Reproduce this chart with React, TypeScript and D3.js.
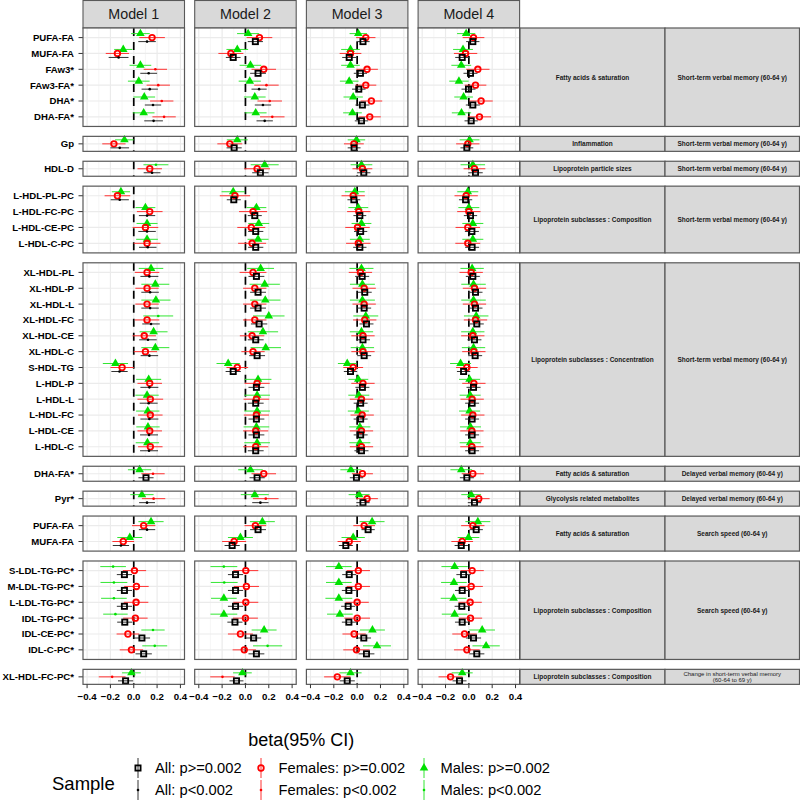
import React from "react";
import * as d3 from "d3";

const models = ["Model 1", "Model 2", "Model 3", "Model 4"];
const rowLabels = [
  "PUFA-FA", "MUFA-FA", "FAw3*", "FAw3-FA*", "DHA*", "DHA-FA*",
  "Gp",
  "HDL-D",
  "L-HDL-PL-PC", "L-HDL-FC-PC", "L-HDL-CE-PC", "L-HDL-C-PC",
  "XL-HDL-PL", "XL-HDL-P", "XL-HDL-L", "XL-HDL-FC", "XL-HDL-CE", "XL-HDL-C",
  "S-HDL-TG", "L-HDL-P", "L-HDL-L", "L-HDL-FC", "L-HDL-CE", "L-HDL-C",
  "DHA-FA*",
  "Pyr*",
  "PUFA-FA", "MUFA-FA",
  "S-LDL-TG-PC*", "M-LDL-TG-PC*", "L-LDL-TG-PC*", "IDL-TG-PC*", "IDL-CE-PC*", "IDL-C-PC*",
  "XL-HDL-FC-PC*",
];
const groupSizes = [6, 1, 1, 4, 12, 1, 1, 2, 6, 1];
const groupClass = [
  "Fatty acids & saturation", "Inflammation", "Lipoprotein particle sizes",
  "Lipoprotein subclasses : Composition", "Lipoprotein subclasses : Concentration",
  "Fatty acids & saturation", "Glycolysis related metabolites", "Fatty acids & saturation",
  "Lipoprotein subclasses : Composition", "Lipoprotein subclasses : Composition",
];
const groupOutcome = [
  ["Short-term verbal memory (60-64 y)"], ["Short-term verbal memory (60-64 y)"],
  ["Short-term verbal memory (60-64 y)"], ["Short-term verbal memory (60-64 y)"],
  ["Short-term verbal memory (60-64 y)"], ["Delayed verbal memory (60-64 y)"],
  ["Delayed verbal memory (60-64 y)"], ["Search speed (60-64 y)"], ["Search speed (60-64 y)"],
  ["Change in short-term verbal memory", "(60-64 to 69 y)"],
];
const xTicks = [-0.4, -0.2, 0, 0.2, 0.4];
const xMinor = [-0.3, -0.1, 0.1, 0.3];

// estimates per model (rows in rowLabels order)
const estAll = [
  [0.114, -0.13, 0.128, 0.137, 0.165, 0.17, -0.12, 0.157, -0.12, 0.114, 0.114, 0.12, 0.134, 0.14, 0.14, 0.148, 0.122, 0.134, -0.122, 0.134, 0.128, 0.134, 0.131, 0.131, 0.105, 0.114, 0.114, -0.11, -0.08, -0.08, -0.08, -0.077, 0.07, 0.085, -0.07],
  [0.085, -0.105, 0.108, 0.117, 0.15, 0.165, -0.097, 0.128, -0.1, 0.08, 0.088, 0.088, 0.094, 0.108, 0.108, 0.117, 0.088, 0.1, -0.105, 0.094, 0.088, 0.094, 0.094, 0.088, 0.1, 0.128, 0.108, -0.114, -0.085, -0.085, -0.085, -0.09, 0.07, 0.094, -0.077],
  [0.05, -0.068, 0.028, 0.014, 0.045, 0.037, -0.026, 0.057, -0.028, 0.023, 0.03, 0.023, 0.043, 0.065, 0.06, 0.08, 0.05, 0.06, -0.057, 0.045, 0.03, 0.03, 0.03, 0.037, -0.006, 0.05, 0.094, -0.097, -0.068, -0.071, -0.077, -0.071, 0.057, 0.08, -0.085],
  [0.034, -0.057, 0.014, -0.003, 0.034, 0.02, -0.017, 0.057, -0.028, 0.014, 0.026, 0.028, 0.034, 0.057, 0.057, 0.068, 0.048, 0.054, -0.045, 0.04, 0.028, 0.028, 0.028, 0.028, -0.017, 0.048, 0.063, -0.065, -0.045, -0.057, -0.06, -0.057, 0.04, 0.068, -0.08],
];
const hwAll = [
  [0.075, 0.085, 0.072, 0.07, 0.07, 0.08, 0.08, 0.072, 0.078, 0.07, 0.075, 0.075, 0.077, 0.075, 0.075, 0.075, 0.075, 0.075, 0.07, 0.077, 0.077, 0.077, 0.077, 0.077, 0.065, 0.068, 0.07, 0.07, 0.065, 0.065, 0.065, 0.065, 0.07, 0.07, 0.065],
  [0.065, 0.063, 0.068, 0.065, 0.07, 0.07, 0.065, 0.07, 0.06, 0.06, 0.065, 0.065, 0.068, 0.068, 0.068, 0.07, 0.068, 0.068, 0.065, 0.068, 0.068, 0.068, 0.068, 0.068, 0.065, 0.07, 0.068, 0.065, 0.065, 0.065, 0.065, 0.065, 0.065, 0.068, 0.06],
  [0.057, 0.06, 0.057, 0.058, 0.06, 0.057, 0.055, 0.057, 0.055, 0.055, 0.057, 0.057, 0.06, 0.06, 0.06, 0.06, 0.06, 0.06, 0.057, 0.06, 0.06, 0.06, 0.06, 0.06, 0.057, 0.057, 0.057, 0.06, 0.06, 0.06, 0.06, 0.06, 0.062, 0.068, 0.065],
  [0.057, 0.06, 0.06, 0.06, 0.06, 0.057, 0.055, 0.062, 0.057, 0.057, 0.06, 0.06, 0.06, 0.06, 0.06, 0.06, 0.06, 0.06, 0.057, 0.06, 0.06, 0.06, 0.06, 0.06, 0.06, 0.057, 0.057, 0.057, 0.062, 0.062, 0.062, 0.062, 0.065, 0.065, 0.06],
];
const estFem = [
  [0.157, -0.14, 0.185, 0.21, 0.24, 0.26, -0.17, 0.137, -0.14, 0.137, 0.1, 0.114, 0.114, 0.114, 0.114, 0.114, 0.09, 0.1, -0.1, 0.137, 0.142, 0.142, 0.137, 0.142, 0.165, 0.17, 0.085, -0.09, 0.006, 0.023, 0.02, 0.014, -0.05, -0.02, -0.185],
  [0.12, -0.125, 0.157, 0.18, 0.208, 0.23, -0.134, 0.1, -0.09, 0.065, 0.05, 0.057, 0.065, 0.08, 0.08, 0.08, 0.057, 0.065, -0.07, 0.1, 0.094, 0.094, 0.088, 0.088, 0.157, 0.174, 0.085, -0.097, 0.003, 0.008, 0.003, 0.0, -0.043, -0.01, -0.197],
  [0.074, -0.057, 0.085, 0.074, 0.122, 0.108, -0.028, 0.045, -0.034, 0.014, 0.003, 0.01, 0.028, 0.06, 0.06, 0.065, 0.05, 0.05, -0.034, 0.05, 0.037, 0.043, 0.037, 0.037, 0.045, 0.085, 0.06, -0.068, 0.01, 0.01, 0.0, 0.0, -0.026, -0.006, -0.17],
  [0.04, -0.028, 0.077, 0.057, 0.105, 0.091, -0.009, 0.048, -0.023, 0.0, -0.009, -0.009, 0.02, 0.048, 0.048, 0.057, 0.034, 0.043, -0.017, 0.043, 0.028, 0.034, 0.026, 0.026, 0.034, 0.085, 0.034, -0.057, 0.028, 0.02, 0.011, 0.014, -0.037, -0.017, -0.157],
];
const hwFem = [
  [0.11, 0.1, 0.1, 0.1, 0.1, 0.1, 0.1, 0.105, 0.11, 0.11, 0.11, 0.115, 0.105, 0.1, 0.1, 0.105, 0.1, 0.1, 0.1, 0.105, 0.11, 0.105, 0.105, 0.105, 0.1, 0.1, 0.1, 0.093, 0.1, 0.105, 0.105, 0.105, 0.097, 0.1, 0.115],
  [0.11, 0.107, 0.105, 0.105, 0.105, 0.105, 0.107, 0.11, 0.13, 0.12, 0.12, 0.12, 0.115, 0.1, 0.1, 0.1, 0.105, 0.1, 0.093, 0.108, 0.11, 0.108, 0.108, 0.108, 0.105, 0.11, 0.093, 0.103, 0.107, 0.108, 0.107, 0.107, 0.107, 0.1, 0.105],
  [0.083, 0.093, 0.093, 0.09, 0.093, 0.095, 0.085, 0.085, 0.1, 0.1, 0.105, 0.105, 0.1, 0.1, 0.1, 0.1, 0.1, 0.1, 0.085, 0.1, 0.1, 0.1, 0.1, 0.1, 0.09, 0.093, 0.093, 0.1, 0.1, 0.1, 0.1, 0.11, 0.1, 0.113, 0.113],
  [0.093, 0.1, 0.1, 0.093, 0.1, 0.1, 0.1, 0.093, 0.1, 0.1, 0.105, 0.107, 0.1, 0.1, 0.1, 0.1, 0.1, 0.1, 0.093, 0.1, 0.1, 0.1, 0.1, 0.1, 0.095, 0.093, 0.1, 0.093, 0.1, 0.1, 0.1, 0.1, 0.105, 0.11, 0.103],
];
const estMale = [
  [0.057, -0.09, 0.057, 0.043, 0.09, 0.085, -0.08, 0.19, -0.11, 0.1, 0.114, 0.114, 0.148, 0.185, 0.19, 0.21, 0.17, 0.185, -0.157, 0.128, 0.114, 0.12, 0.122, 0.117, 0.05, 0.07, 0.148, -0.034, -0.177, -0.17, -0.17, -0.157, 0.165, 0.18, -0.02],
  [0.023, -0.07, 0.043, 0.037, 0.08, 0.088, -0.07, 0.165, -0.105, 0.094, 0.114, 0.108, 0.13, 0.165, 0.17, 0.2, 0.15, 0.174, -0.148, 0.108, 0.1, 0.1, 0.094, 0.1, 0.043, 0.08, 0.145, -0.043, -0.185, -0.182, -0.185, -0.185, 0.16, 0.19, -0.026],
  [0.01, -0.057, -0.057, -0.068, -0.034, -0.04, -0.006, 0.037, -0.02, 0.01, 0.037, 0.023, 0.037, 0.045, 0.045, 0.074, 0.037, 0.045, -0.085, 0.01, 0.014, 0.01, 0.023, 0.023, -0.054, 0.017, 0.128, -0.034, -0.157, -0.157, -0.157, -0.148, 0.131, 0.17, -0.057],
  [-0.023, -0.05, -0.065, -0.085, -0.045, -0.063, 0.006, 0.034, -0.009, 0.0, 0.034, 0.034, 0.028, 0.04, 0.04, 0.063, 0.034, 0.04, -0.071, 0.006, 0.011, 0.006, 0.014, 0.011, -0.065, 0.02, 0.077, -0.003, -0.122, -0.128, -0.131, -0.122, 0.114, 0.148, -0.057],
];
const hwMale = [
  [0.08, 0.078, 0.093, 0.093, 0.093, 0.093, 0.08, 0.107, 0.078, 0.085, 0.09, 0.093, 0.105, 0.12, 0.125, 0.128, 0.12, 0.12, 0.108, 0.107, 0.1, 0.1, 0.1, 0.1, 0.1, 0.1, 0.108, 0.107, 0.11, 0.115, 0.11, 0.105, 0.1, 0.107, 0.08],
  [0.095, 0.093, 0.093, 0.095, 0.093, 0.093, 0.09, 0.12, 0.1, 0.085, 0.09, 0.09, 0.115, 0.13, 0.13, 0.135, 0.13, 0.13, 0.1, 0.115, 0.11, 0.11, 0.11, 0.11, 0.105, 0.12, 0.107, 0.107, 0.115, 0.115, 0.11, 0.115, 0.107, 0.125, 0.08],
  [0.075, 0.08, 0.08, 0.08, 0.083, 0.08, 0.075, 0.093, 0.085, 0.085, 0.085, 0.085, 0.103, 0.107, 0.107, 0.107, 0.1, 0.1, 0.08, 0.085, 0.09, 0.09, 0.09, 0.09, 0.09, 0.09, 0.107, 0.1, 0.11, 0.11, 0.115, 0.11, 0.107, 0.12, 0.095],
  [0.078, 0.085, 0.085, 0.083, 0.08, 0.083, 0.085, 0.105, 0.09, 0.09, 0.09, 0.09, 0.1, 0.105, 0.105, 0.105, 0.1, 0.1, 0.09, 0.09, 0.09, 0.09, 0.09, 0.09, 0.093, 0.085, 0.107, 0.093, 0.113, 0.11, 0.11, 0.11, 0.11, 0.117, 0.09],
];
// row indices where p<0.002 (drawn as small points)
const sigAll = [
  [0, 1, 2, 3, 4, 5, 6, 7, 8, 9, 10, 11, 12, 13, 14, 15, 16, 17, 18, 19, 20, 21, 22, 23, 25, 26, 27],
  [3, 4, 5, 25], [], [],
];
const sigFem = [[2, 3, 4, 5, 24, 25, 34], [3, 4, 5, 25, 34], [], []];
const sigMale = [[7, 15, 28, 29, 30, 31, 32, 33], [28, 29, 33], [], []];

const seriesNames = ["Males", "Females", "All"];

// ---------- layout ----------
const W = 800, H = 810;
const FONT = "'Liberation Sans', Arial, Helvetica, sans-serif";
const panelTop0 = 28;
const unit = 15.85, pad = 9.6, single = 15, gap = 9.9;
const panelX0 = 83, panelStep = 111.7, panelW = 101.5;
const strip1X = 520, strip1W = 145, strip2W = 134.5;
const GREEN = "#00E000", RED = "#FF0000", BLACK = "#000000";

function groupLayout() {
  let y = panelTop0;
  let start = 0;
  return groupSizes.map((n, gi) => {
    const h = n === 1 ? single : (n - 1) * unit + 2 * pad;
    const rows = d3.range(start, start + n);
    const yScale = d3.scalePoint<number>().domain(rows)
      .range(n === 1 ? [y, y + h] : [y + pad, y + h - pad]);
    const g = { gi, top: y, h, rows, yScale };
    y += h + gap;
    start += n;
    return g;
  });
}

function Marker({ s, small, x, y }: { s: number; small: boolean; x: number; y: number }) {
  const col = [GREEN, RED, BLACK][s];
  if (small) return <circle cx={x} cy={y} r={1.3} fill={col} />;
  if (s === 2) return <rect x={x - 2.6} y={y - 2.6} width={5.2} height={5.2} fill="none" stroke={BLACK} strokeWidth={1.8} />;
  if (s === 1) return <circle cx={x} cy={y} r={2.8} fill="none" stroke={RED} strokeWidth={1.8} />;
  const a = 4.3;
  const hh = a * Math.sqrt(3);
  const p = `M${x},${y - (2 / 3) * hh} L${x + a},${y + hh / 3} L${x - a},${y + hh / 3} Z`;
  return <path d={p} fill={GREEN} />;
}

export default function App() {
  const groups = groupLayout();
  const bottom = groups[groups.length - 1].top + groups[groups.length - 1].h;
  const est = [estMale, estFem, estAll];
  const hw = [hwMale, hwFem, hwAll];
  const sig = [sigMale, sigFem, sigAll];
  const colors = [GREEN, RED, BLACK];
  const lineColors = ["#33E633", "#FF3333", "#333333"];
  const offsets = [-4, 0, 4];

  return (
    <svg width={W} height={H} style={{ position: "absolute", left: 0, top: 0, background: "#fff" }} fontFamily={FONT}>
      <rect width={W} height={H} fill="#fff" />
      {/* top strips */}
      {models.map((m, mi) => {
        const x0 = panelX0 + mi * panelStep;
        return (
          <g key={"ts" + mi}>
            <rect x={x0} y={0.5} width={panelW} height={panelTop0 - 0.5} fill="#D9D9D9" stroke="#595959" strokeWidth={1.1} />
            <text x={x0 + panelW / 2} y={19} textAnchor="middle" fontSize={14.3} fill="#1A1A1A">{m}</text>
          </g>
        );
      })}
      {groups.map((g) => (
        <g key={"g" + g.gi}>
          {/* y axis labels */}
          {g.rows.map((r) => (
            <g key={"yl" + r}>
              <text x={74} y={g.yScale(r)! + 3.4} textAnchor="end" fontSize={9.6} fontWeight="bold" fill="#000">{rowLabels[r]}</text>
              <line x1={78.5} x2={83} y1={g.yScale(r)} y2={g.yScale(r)} stroke="#333" strokeWidth={1} />
            </g>
          ))}
          {models.map((m, mi) => {
            const x0 = panelX0 + mi * panelStep;
            const xs = d3.scaleLinear().domain([-0.435, 0.435]).range([x0, x0 + panelW]);
            return (
              <g key={"p" + mi}>
                <rect x={x0} y={g.top} width={panelW} height={g.h} fill="#fff" />
                {xMinor.map((t) => (
                  <line key={"mn" + t} x1={xs(t)} x2={xs(t)} y1={g.top} y2={g.top + g.h} stroke="#F2F2F2" strokeWidth={0.7} />
                ))}
                {xTicks.map((t) => (
                  <line key={"mj" + t} x1={xs(t)} x2={xs(t)} y1={g.top} y2={g.top + g.h} stroke="#EBEBEB" strokeWidth={1.2} />
                ))}
                {g.rows.map((r) => (
                  <line key={"hr" + r} x1={x0} x2={x0 + panelW} y1={g.yScale(r)} y2={g.yScale(r)} stroke="#EBEBEB" strokeWidth={1.2} />
                ))}
                <line x1={xs(0)} x2={xs(0)} y1={g.top} y2={g.top + g.h} stroke="#000" strokeWidth={1.7} strokeDasharray="8,6" />
                {[0, 1, 2].map((s) => (
                  <g key={"s" + s}>
                    {g.rows.map((r) => {
                      const e = est[s][mi][r];
                      const w = hw[s][mi][r];
                      const y = g.yScale(r)! + offsets[s];
                      const small = sig[s][mi].includes(r);
                      return (
                        <g key={"pt" + r}>
                          <line x1={xs(e - w)} x2={xs(e + w)} y1={y} y2={y} stroke={lineColors[s]} strokeWidth={1} />
                          <Marker s={s} small={small} x={xs(e)} y={y} />
                        </g>
                      );
                    })}
                  </g>
                ))}
                <rect x={x0} y={g.top} width={panelW} height={g.h} fill="none" stroke="#595959" strokeWidth={1.2} />
              </g>
            );
          })}
          {/* right strips */}
          <rect x={strip1X} y={g.top} width={strip1W} height={g.h} fill="#D9D9D9" stroke="#595959" strokeWidth={1.2} />
          <rect x={strip1X + strip1W} y={g.top} width={strip2W} height={g.h} fill="#D9D9D9" stroke="#595959" strokeWidth={1.2} />
          <text x={strip1X + strip1W / 2} y={g.top + g.h / 2 + 2.3} textAnchor="middle" fontSize={6.5} fontWeight="bold" fill="#1A1A1A">{groupClass[g.gi]}</text>
          {groupOutcome[g.gi].map((t, li, arr) => (
            <text key={"o" + li} x={strip1X + strip1W + strip2W / 2} y={g.top + g.h / 2 + 2.3 + (li - (arr.length - 1) / 2) * 6.6}
              textAnchor="middle" fontSize={arr.length > 1 ? 6 : 6.5} fontWeight={arr.length > 1 ? "normal" : "bold"} fill="#1A1A1A">{t}</text>
          ))}
        </g>
      ))}
      {/* x axis */}
      {models.map((m, mi) => {
        const x0 = panelX0 + mi * panelStep;
        const xs = d3.scaleLinear().domain([-0.435, 0.435]).range([x0, x0 + panelW]);
        return (
          <g key={"xa" + mi}>
            {xTicks.map((t) => (
              <g key={"xt" + t}>
                <line x1={xs(t)} x2={xs(t)} y1={bottom} y2={bottom + 3.8} stroke="#333" strokeWidth={1} />
                <text x={xs(t)} y={bottom + 15.5} textAnchor="middle" fontSize={9.7} fontWeight="bold" fill="#000">{d3.format(".1f")(t)}</text>
              </g>
            ))}
          </g>
        );
      })}
      <text x={panelX0 + (3 * panelStep + panelW) / 2} y={746} textAnchor="middle" fontSize={18} fill="#000">beta(95% CI)</text>
      {/* legend */}
      <text x={52} y={790} fontSize={18.5} fill="#000">Sample</text>
      {[0, 1].map((row) => {
        const cy = row === 0 ? 768 : 790;
        const entries = [
          { s: 2, kx: 138, tx: 155 },
          { s: 1, kx: 261, tx: 278.6 },
          { s: 0, kx: 424, tx: 440.6 },
        ];
        return (
          <g key={"lg" + row}>
            {entries.map((en) => (
              <g key={"le" + en.s}>
                <line x1={en.kx} x2={en.kx} y1={cy - 10} y2={cy + 10} stroke={lineColors[en.s]} strokeWidth={1} />
                <Marker s={en.s} small={row === 1} x={en.kx} y={cy} />
                <text x={en.tx} y={cy + 5.2} fontSize={14.7} fill="#000">{`${seriesNames[en.s]}: ${row === 0 ? "p>=0.002" : "p<0.002"}`}</text>
              </g>
            ))}
          </g>
        );
      })}
    </svg>
  );
}
